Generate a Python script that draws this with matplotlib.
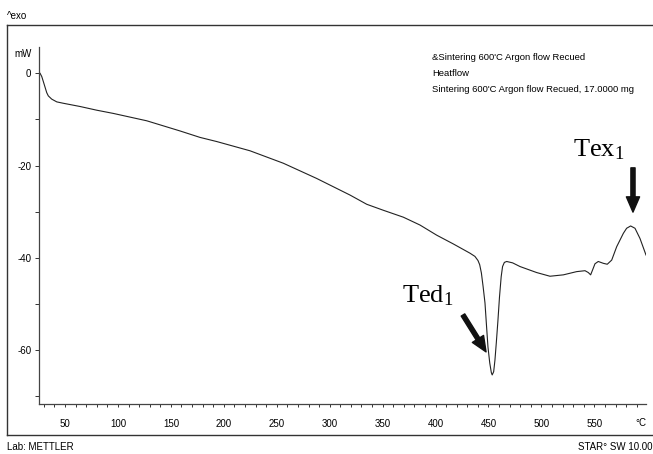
import matplotlib
matplotlib.use("Agg")
import matplotlib.pyplot as plt
from matplotlib.lines import Line2D

# ---- data ----
temperature_c = [25.0, 26.4, 28.0, 29.5, 31.1, 32.7, 34.2, 37.4, 42.2, 48.4,
                 64.2, 79.9, 95.6, 127.2, 158.6, 177.5, 193.3, 224.7, 256.2,
                 287.7, 319.2, 335.0, 350.7, 369.6, 385.3, 401.1, 416.8, 432.5,
                 437.2, 440.1, 441.7, 443.3, 444.9, 446.7, 448.1, 449.5, 451.2,
                 452.7, 453.5, 454.9, 456.1, 457.4, 458.9, 460.4, 462.0, 463.3,
                 465.0, 467.2, 472.8, 479.8, 495.5, 508.1, 520.7, 533.3, 541.2,
                 544.3, 546.5, 548.4, 550.6, 553.7, 558.5, 562.2, 566.4, 571.1,
                 577.4, 580.5, 584.3, 588.4, 593.1, 598.8]
heatflow_mw = [0.3, 0.0, -0.7, -1.8, -3.0, -4.2, -4.9, -5.6, -6.2, -6.5,
               -7.2, -8.0, -8.7, -10.3, -12.5, -13.9, -14.8, -16.8, -19.5,
               -22.8, -26.4, -28.4, -29.7, -31.2, -32.9, -35.1, -37.0, -39.0,
               -39.7, -40.6, -41.5, -43.3, -46.2, -49.8, -54.6, -59.3, -62.8,
               -64.9, -65.4, -64.7, -62.2, -58.4, -53.7, -48.5, -44.1, -41.9,
               -41.0, -40.8, -41.1, -41.9, -43.2, -44.0, -43.7, -43.0, -42.8,
               -43.2, -43.7, -42.6, -41.3, -40.8, -41.2, -41.4, -40.5, -37.6,
               -34.7, -33.6, -33.1, -33.6, -35.8, -39.4]

x_major = [50, 100, 150, 200, 250, 300, 350, 400, 450, 500, 550]
x_minor = list(range(30, 600, 10))
y_major = [0, -20, -40, -60]
y_minor = [-10, -30, -50, -70]

legend_lines = ["&Sintering 600'C Argon flow Recued",
                "Heatflow",
                "Sintering 600'C Argon flow Recued, 17.0000 mg"]

W, H = 653, 454
NARROW = ['Liberation Sans Narrow', 'Liberation Sans', 'DejaVu Sans']
plt.rcParams['font.family'] = NARROW
plt.rcParams['mathtext.fontset'] = 'custom'
plt.rcParams['mathtext.rm'] = 'Liberation Serif'
plt.rcParams['mathtext.it'] = 'Liberation Serif:italic'

fig = plt.figure(figsize=(W / 100, H / 100), dpi=100)


def fx(x):
    return x / W


def fy(y):
    return 1 - y / H


# axes box in pixels: x 39..646, y 47..404
ax = fig.add_axes([fx(39), fy(404), fx(646) - fx(39), fy(47) - fy(404)])
ax.plot(temperature_c, heatflow_mw, color='#222222', lw=0.8)
ax.set_xlim(25.4, 598.8)
ax.set_ylim(-71.7, 5.7)

for s in ['top', 'right']:
    ax.spines[s].set_visible(False)
for s in ['left', 'bottom']:
    ax.spines[s].set_color('#444444')
    ax.spines[s].set_linewidth(0.9)

ax.set_xticks(x_major)
ax.set_xticks(x_minor, minor=True)
ax.set_yticks(y_major)
ax.set_yticks(y_minor, minor=True)
ax.tick_params(axis='x', which='both', direction='out', length=2.5, width=0.7,
               color='#333333', labelsize=7, pad=8)
ax.tick_params(axis='y', which='both', direction='out', length=3, width=0.7,
               color='#333333', labelsize=7, pad=2.5)
ax.set_xticklabels([str(v) for v in x_major])
ax.set_yticklabels([str(v) for v in y_major])

# unit labels
fig.text(fx(646), fy(423), '°C', ha='right', va='center', fontsize=7)
fig.text(fx(32), fy(54), 'mW', ha='right', va='center', fontsize=7)

# legend-style header text
for i, t in enumerate(legend_lines):
    fig.text(fx(432), fy(58 + 16 * i), t, ha='left', va='center', fontsize=6.8)

# outer frame lines
frame_kw = dict(color='#333333', lw=1.0, transform=fig.transFigure)
fig.add_artist(Line2D([fx(7), 1.0], [fy(25), fy(25)], **frame_kw))
fig.add_artist(Line2D([fx(7), fx(7)], [fy(25), fy(435)], **frame_kw))
fig.add_artist(Line2D([fx(7), 1.0], [fy(435), fy(435)], **frame_kw))

fig.text(fx(7), fy(16), '^exo', ha='left', va='center', fontsize=7)
fig.text(fx(7), fy(447), 'Lab: METTLER', ha='left', va='center', fontsize=7)
fig.text(fx(652), fy(447), 'STAR° SW 10.00', ha='right', va='center', fontsize=7)

# annotations
arrow_style = 'simple,head_length=1.1,head_width=0.95,tail_width=0.3'
ax.annotate('', xy=(447.7, -60.4), xytext=(425.9, -52.4),
            arrowprops=dict(arrowstyle=arrow_style, color='#111111',
                            mutation_scale=10, shrinkA=0, shrinkB=0))
ax.annotate('', xy=(586.5, -30.1), xytext=(586.5, -20.5),
            arrowprops=dict(arrowstyle=arrow_style, color='#111111',
                            mutation_scale=10, shrinkA=0, shrinkB=0))
ax.text(368.3, -49.6, r'Ted$_\mathrm{1}$', family='Liberation Serif',
        fontsize=19, ha='left', va='baseline')
ax.text(529.8, -18.1, r'Tex$_\mathrm{1}$', family='Liberation Serif',
        fontsize=19, ha='left', va='baseline')

fig.savefig('out.png', dpi=100)
